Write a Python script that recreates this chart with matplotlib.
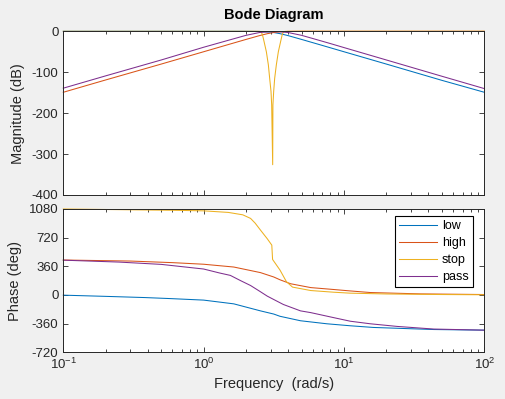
import matplotlib.pyplot as plt
from matplotlib.ticker import LogLocator, FixedLocator, NullFormatter

plt.rcParams['font.family'] = ['Liberation Sans', 'DejaVu Sans']
plt.rcParams['mathtext.fontset'] = 'custom'
plt.rcParams['mathtext.rm'] = 'Liberation Sans'
plt.rcParams['axes.unicode_minus'] = False

# magnitude (dB)
low_mag_f = [0.1, 1, 2, 2.5, 3, 3.16, 3.5, 4, 5, 7, 10, 20, 50, 100]
low_mag = [0, 0, -0.04, -0.4, -2.0, -3.0, -5.8, -10.6, -20, -34.5, -50, -80, -120, -149]

high_mag_f = [0.1, 0.2, 0.5, 1, 1.5, 2, 2.5, 2.85, 3.16, 3.5, 4, 5, 10, 100]
high_mag = [-149, -119, -80, -50, -32.4, -20, -10.6, -5.8, -3, -1.3, -0.4, 0, 0, 0]

stop_mag_f = [0.1, 2.4, 2.5, 2.564, 2.6, 2.64, 2.679, 2.799, 2.892, 2.955, 3.021, 3.054,
              3.105, 3.117, 3.156, 3.208, 3.297, 3.407, 3.559, 3.62, 3.66, 3.719, 3.8, 4, 100]
stop_mag = [0, 0, -0.2, -1, -5, -12, -21, -50, -82, -115, -147, -180,
            -326, -180, -147, -115, -82, -50, -21, -10, -5, -1, -0.3, 0, 0]

pass_mag_f = [0.1, 0.2, 0.5, 1, 1.5, 2, 2.5, 3, 3.5, 4, 5, 6, 8, 10, 20, 50, 100]
pass_mag = [-139, -109, -70, -39, -22, -10, -3, -0.9, -1.2, -3, -10, -17.7, -30, -39.8, -70, -110, -140]

# phase (deg)
low_ph_f = [0.1, 0.2, 0.38, 0.58, 1.0, 1.64, 2.54, 3.16, 3.5, 4.9, 7.55, 11.1, 16.2, 43.6, 100]
low_ph = [-3, -18, -33, -46, -65, -112, -200, -240, -268, -324, -362, -387, -408, -434, -442]

high_ph_f = [0.1, 0.3, 0.6, 1.0, 1.64, 2.54, 3.16, 3.5, 4.17, 5.8, 8.45, 11.1, 15.4, 35, 100]
high_ph = [438, 425, 405, 385, 350, 280, 225, 190, 140, 92, 68, 50, 30, 13, 5]

stop_ph_f = [0.1, 0.3, 0.6, 1.0, 1.5, 1.9, 2.16, 2.33, 2.55, 2.84, 3.06, 3.1, 3.5, 3.89,
             4.3, 5.8, 8.45, 11.1, 20, 50, 100]
stop_ph = [1078, 1068, 1062, 1055, 1035, 1005, 960, 900, 810, 705, 625, 445, 312, 166,
           98, 55, 34, 22, 12, 5, 2]

pass_ph_f = [0.1, 0.25, 0.5, 1.0, 1.3, 1.55, 1.83, 2.16, 2.54, 2.84, 3.14, 3.7, 4.9, 5.8,
             8.45, 11.1, 15.4, 23.9, 43.6, 100]
pass_ph = [436, 412, 383, 325, 275, 245, 180, 118, 40, -15, -55, -120, -200, -222,
           -285, -330, -362, -395, -428, -442]

labels = ['low', 'high', 'stop', 'pass']
colors = ['#0072BD', '#D95319', '#EDB120', '#7E2F8E']

mag_f = [low_mag_f, high_mag_f, stop_mag_f, pass_mag_f]
mags = [low_mag, high_mag, stop_mag, pass_mag]
ph_f = [low_ph_f, high_ph_f, stop_ph_f, pass_ph_f]
phs = [low_ph, high_ph, stop_ph, pass_ph]

axcol = '#262626'

fig = plt.figure(figsize=(5.06, 3.99), dpi=100, facecolor='#f0f0f0')
ax1 = fig.add_axes([0.1251, 0.5113, 0.832, 0.4103])
ax2 = fig.add_axes([0.1251, 0.1170, 0.832, 0.3596])

for i in range(4):
    ax1.semilogx(mag_f[i], mags[i], color=colors[i], lw=0.75, clip_on=False)
    ax2.semilogx(ph_f[i], phs[i], color=colors[i], lw=0.75, clip_on=False, label=labels[i])

for ax in (ax1, ax2):
    ax.set_xlim(0.1, 100)
    ax.xaxis.set_major_locator(LogLocator(base=10, numticks=10))
    ax.xaxis.set_minor_locator(LogLocator(base=10, subs=range(2, 10), numticks=10))
    ax.xaxis.set_minor_formatter(NullFormatter())
    ax.tick_params(which='both', direction='in', top=True, right=True,
                   colors=axcol, labelcolor=axcol, labelsize=9.5, width=0.6)
    ax.tick_params(which='major', length=3.5)
    ax.tick_params(which='minor', length=2)
    for s in ax.spines.values():
        s.set_color(axcol)
        s.set_linewidth(0.7)

ax1.set_ylim(-400, 0)
ax1.yaxis.set_major_locator(FixedLocator([-400, -300, -200, -100, 0]))
ax1.tick_params(labelbottom=False)
ax1.set_ylabel('Magnitude (dB)', fontsize=10.5, color=axcol)
ax1.yaxis.set_label_coords(-0.091, 0.5)
ax1.set_title('Bode Diagram', fontsize=10.5, fontweight='bold', color='black', pad=9)

ax2.set_ylim(-720, 1080)
ax2.yaxis.set_major_locator(FixedLocator([-720, -360, 0, 360, 720, 1080]))
ax2.set_ylabel('Phase (deg)', fontsize=10.5, color=axcol)
ax2.yaxis.set_label_coords(-0.098, 0.5)
ax2.set_xlabel('Frequency  (rad/s)', fontsize=10.5, color=axcol, labelpad=3)

leg = ax2.legend(loc='upper right', bbox_to_anchor=(0.973, 0.953), borderaxespad=0,
                 fontsize=9, handlelength=3.0, labelspacing=0.4, fancybox=False,
                 framealpha=1, edgecolor='black', borderpad=0.35, handletextpad=0.4)
leg.get_frame().set_linewidth(0.8)

fig.savefig('out.png', dpi=100, facecolor=fig.get_facecolor())
